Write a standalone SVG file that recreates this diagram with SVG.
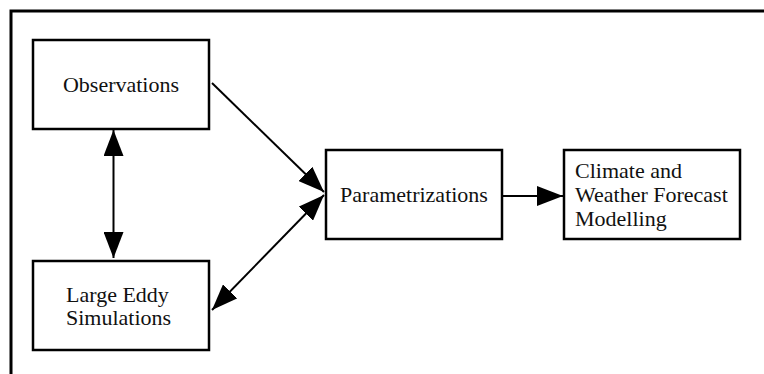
<svg xmlns="http://www.w3.org/2000/svg" width="764" height="374" viewBox="0 0 764 374">
  <style>
    .box { fill: #fff; stroke: #000; stroke-width: 2.5; }
    .lbl { font-family: "Liberation Serif", "Times New Roman", serif; font-size: 22px; fill: #111; }
    .mid { text-anchor: middle; }
    .wire { fill: none; stroke: #000; stroke-width: 2; }
  </style>
  <defs>
    <marker id="head" viewBox="0 0 26 20" refX="26" refY="10" markerWidth="26" markerHeight="20" markerUnits="userSpaceOnUse" orient="auto-start-reverse">
      <path d="M0,0 L26,10 L0,20 Z" fill="#000"/>
    </marker>
  </defs>
  <rect width="764" height="374" fill="#fff"/>

  <!-- outer frame -->
  <path d="M11,374 V11 H764" fill="none" stroke="#000" stroke-width="3"/>

  <g id="observations">
    <rect class="box" x="33" y="40" width="176" height="89"/>
    <text class="lbl mid" x="121" y="92">Observations</text>
  </g>

  <g id="large-eddy-simulations">
    <rect class="box" x="33" y="261" width="176" height="89"/>
    <text class="lbl" x="66" y="302">Large Eddy</text>
    <text class="lbl" x="66" y="325">Simulations</text>
  </g>

  <g id="parametrizations">
    <rect class="box" x="326" y="150" width="176" height="89"/>
    <text class="lbl mid" x="414" y="202">Parametrizations</text>
  </g>

  <g id="climate-weather">
    <rect class="box" x="564" y="150" width="176" height="89"/>
    <text class="lbl" x="575" y="178">Climate and</text>
    <text class="lbl" x="575" y="202">Weather Forecast</text>
    <text class="lbl" x="575" y="226">Modelling</text>
  </g>

  <g id="connectors">
    <line class="wire" x1="113.5" y1="130" x2="113.5" y2="258" marker-start="url(#head)" marker-end="url(#head)"/>
    <line class="wire" x1="212" y1="83" x2="324" y2="192" marker-end="url(#head)"/>
    <line class="wire" x1="324" y1="195" x2="212" y2="310" marker-start="url(#head)" marker-end="url(#head)"/>
    <line class="wire" x1="502" y1="196" x2="563" y2="196" marker-end="url(#head)"/>
  </g>
</svg>
